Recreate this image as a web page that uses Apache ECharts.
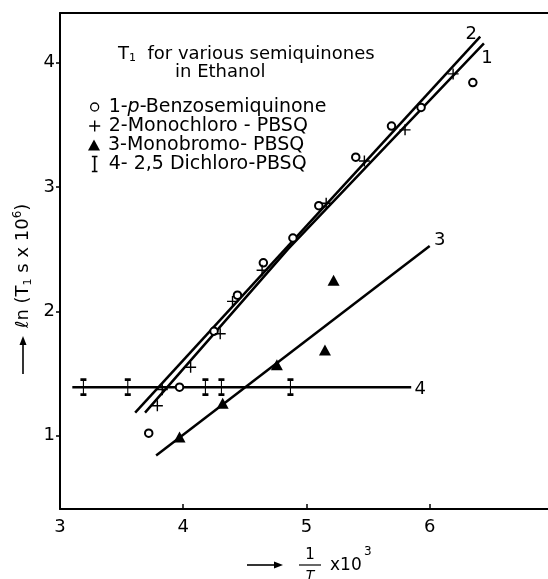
<!DOCTYPE html>
<html><head><meta charset="utf-8">
<script src="https://cdn.jsdelivr.net/npm/echarts@6/dist/echarts.min.js"></script>
<style>html,body{margin:0;padding:0;background:#fff}#c{width:548px;height:579px}</style>
</head><body><div id="c"></div>
<script>
const FONT = 'DejaVu Sans';

// tick labels
const xTicks = [3, 4, 5, 6];
const yTicks = [1, 2, 3, 4];

// series names
const seriesNames = ['1-p-Benzosemiquinone', '2-Monochloro - PBSQ', '3-Monobromo- PBSQ', '4- 2,5 Dichloro-PBSQ'];

// 1: p-Benzosemiquinone (open circles)
const benzoX = [3.72, 3.97, 4.25, 4.44, 4.65, 4.89, 5.10, 5.40, 5.69, 5.93, 6.35];
const benzoY = [1.02, 1.39, 1.84, 2.13, 2.39, 2.59, 2.85, 3.24, 3.49, 3.64, 3.84];
// 2: Monochloro-PBSQ (plus)
const chloroX = [3.79, 3.83, 4.06, 4.30, 4.40, 4.64, 5.16, 5.47, 5.80, 6.19];
const chloroY = [1.24, 1.37, 1.55, 1.82, 2.08, 2.33, 2.87, 3.21, 3.46, 3.91];
// 3: Monobromo-PBSQ (filled triangles)
const bromoX = [3.97, 4.32, 4.76, 5.15, 5.22];
const bromoY = [0.99, 1.26, 1.57, 1.69, 2.25];
// 4: 2,5 Dichloro-PBSQ (I bars)
const dichloroX = [3.19, 3.55, 4.18, 4.31, 4.87];
const dichloroY = [1.39, 1.39, 1.39, 1.39, 1.39];

// hand-drawn fit lines
const fit1X = [3.69, 4.85, 6.44];
const fit1Y = [1.185, 2.50, 4.155];
const fit2X = [3.61, 6.41];
const fit2Y = [1.185, 4.21];
const fit3X = [3.78, 6.00];
const fit3Y = [0.84, 2.525];
const fit4X = [3.10, 5.85];
const fit4Y = [1.39, 1.39];
const fitLabels = ['1', '2', '3', '4'];

const zip = (xs, ys) => xs.map((x, i) => [x, ys[i]]);
const fits = [zip(fit1X, fit1Y), zip(fit2X, fit2Y), zip(fit3X, fit3Y), zip(fit4X, fit4Y)];
const fitLabelOffsets = [[3, 15], [-9, -2], [10, -6], [9, 2]];

const black = '#000';
const txt = { color: black, fontFamily: FONT };

const chart = echarts.init(document.getElementById('c'), null, { renderer: 'canvas' });

const plusPath = 'path://M0,5L10,5M5,0L5,10';
const iPath = 'path://M0,0L6,0M3,0L3,16M0,16L6,16';

const legendRows = [107, 126, 145, 164];
const legendDefs = [
  { icon: 'circle', w: 8, h: 8, style: { color: '#fff', borderColor: black, borderWidth: 1.3, opacity: 1 }, fmt: '1-{i|p}-Benzosemiquinone' },
  { icon: plusPath, w: 11, h: 11, style: { color: 'transparent', borderColor: black, borderWidth: 1.4, opacity: 1 }, fmt: '2-Monochloro - PBSQ' },
  { icon: 'triangle', w: 12, h: 11, style: { color: black, borderWidth: 0, opacity: 1 }, fmt: '3-Monobromo- PBSQ' },
  { icon: iPath, w: 6, h: 15, style: { color: 'transparent', borderColor: black, borderWidth: 1.7, opacity: 1 }, fmt: '4- 2,5 Dichloro-PBSQ' }
];
const legends = legendDefs.map((d, i) => ({
  data: [seriesNames[i]],
  left: 94 - d.w / 2,
  top: legendRows[i] - 10,
  padding: 0,
  icon: d.icon,
  itemWidth: d.w,
  itemHeight: d.h,
  itemStyle: d.style,
  selectedMode: false,
  formatter: () => d.fmt,
  textStyle: {
    ...txt, fontSize: 19, lineHeight: 20,
    padding: [0, 0, 0, 108 - (94 + d.w / 2 + 5)],
    rich: { i: { ...txt, fontSize: 19, fontStyle: 'italic', lineHeight: 20 } }
  }
}));

chart.setOption({
  animation: false,
  backgroundColor: '#fff',
  grid: { left: 60, top: 13, right: 0, bottom: 70, containLabel: false },
  title: [
    {
      text: 'T{s|1}  for various semiquinones', left: 118, top: 44, padding: 0,
      textStyle: { ...txt, fontSize: 18, fontWeight: 'normal', lineHeight: 20,
        rich: { s: { ...txt, fontSize: 11, verticalAlign: 'bottom', lineHeight: 20 } } }
    },
    {
      text: 'in Ethanol', left: 175, top: 62, padding: 0,
      textStyle: { ...txt, fontSize: 18, fontWeight: 'normal', lineHeight: 20 }
    }
  ],
  legend: legends,
  xAxis: [
    {
      type: 'value', min: 3, max: 6.96, position: 'bottom',
      axisLine: { show: true, onZero: false, lineStyle: { color: black, width: 2 } },
      axisTick: { show: true, inside: true, length: 5, customValues: xTicks, lineStyle: { color: black, width: 1.5 } },
      axisLabel: { customValues: xTicks, margin: 9, fontSize: 18, ...txt },
      splitLine: { show: false }
    },
    {
      type: 'value', min: 3, max: 6.96, position: 'top',
      axisLine: { show: true, onZero: false, lineStyle: { color: black, width: 2 } },
      axisTick: { show: false }, axisLabel: { show: false }, splitLine: { show: false }
    }
  ],
  yAxis: {
    type: 'value', min: 0.41, max: 4.40,
    axisLine: { show: true, onZero: false, lineStyle: { color: black, width: 2 } },
    axisTick: { show: true, inside: false, length: 4, customValues: yTicks, lineStyle: { color: black, width: 1.5 } },
    axisLabel: { customValues: yTicks, margin: 5, fontSize: 18, ...txt },
    splitLine: { show: false }
  },
  series: [
    ...fits.map((f, i) => ({
      type: 'line', name: 'fit ' + fitLabels[i], data: f, symbol: 'none', silent: true,
      lineStyle: { color: black, width: 2.5, opacity: 1 }, z: 1
    })),
    {
      type: 'scatter', name: 'fit labels', silent: true, symbolSize: 1,
      itemStyle: { color: 'transparent', opacity: 1 },
      data: fits.map((f, i) => ({
        value: f[f.length - 1],
        label: { show: true, position: 'inside', offset: fitLabelOffsets[i], formatter: fitLabels[i], fontSize: 18, color: black, fontFamily: FONT, textBorderWidth: 0 }
      })),
      z: 3
    },
    {
      type: 'scatter', name: seriesNames[0], data: zip(benzoX, benzoY),
      symbol: 'emptyCircle', symbolSize: 7.5,
      itemStyle: { color: black, borderColor: black, borderWidth: 1.3, opacity: 1 }, z: 4
    },
    {
      type: 'scatter', name: seriesNames[1], data: zip(chloroX, chloroY),
      symbol: plusPath, symbolSize: 11,
      itemStyle: { color: 'transparent', borderColor: black, borderWidth: 1.4, opacity: 1 }, z: 4
    },
    {
      type: 'scatter', name: seriesNames[2], data: zip(bromoX, bromoY),
      symbol: 'triangle', symbolSize: [12, 11],
      itemStyle: { color: black, opacity: 1 }, z: 4
    },
    {
      type: 'scatter', name: seriesNames[3], data: zip(dichloroX, dichloroY),
      symbol: iPath, symbolSize: [6, 15],
      itemStyle: { color: 'transparent', borderColor: black, borderWidth: 1.7, opacity: 1 }, z: 4
    }
  ],
  graphic: [
    {
      type: 'group', x: 23, y: 374, rotation: Math.PI / 2, silent: true,
      children: [
        { type: 'line', shape: { x1: 0, y1: 0, x2: 31, y2: 0 }, style: { stroke: black, lineWidth: 1.6 } },
        { type: 'polygon', shape: { points: [[38, 0], [29, -3.5], [29, 3.5]] }, style: { fill: black } },
        {
          type: 'text', x: 46, y: 0,
          style: {
            text: 'ℓn (T{s|1} s x 10{p|6})', fill: black, fontFamily: FONT, fontSize: 18,
            verticalAlign: 'middle', align: 'left', lineHeight: 22,
            rich: {
              s: { fill: black, fontFamily: FONT, fontSize: 11, verticalAlign: 'bottom', lineHeight: 22 },
              p: { fill: black, fontFamily: FONT, fontSize: 12, verticalAlign: 'top', lineHeight: 22 }
            }
          }
        }
      ]
    },
    { type: 'line', silent: true, shape: { x1: 247, y1: 565, x2: 276, y2: 565 }, style: { stroke: black, lineWidth: 1.6 } },
    { type: 'polygon', silent: true, shape: { points: [[283, 565], [274, 561.5], [274, 568.5]] }, style: { fill: black } },
    { type: 'text', silent: true, x: 310, y: 555, style: { text: '1', fill: black, fontFamily: FONT, fontSize: 15, align: 'center', verticalAlign: 'middle' } },
    { type: 'line', silent: true, shape: { x1: 299, y1: 565, x2: 321, y2: 565 }, style: { stroke: black, lineWidth: 1.2 } },
    { type: 'text', silent: true, x: 310, y: 576, style: { text: 'T', fill: black, fontFamily: FONT, fontSize: 14, fontStyle: 'italic', align: 'center', verticalAlign: 'middle' } },
    { type: 'text', silent: true, x: 330, y: 566, style: { text: 'x10', fill: black, fontFamily: FONT, fontSize: 17, align: 'left', verticalAlign: 'middle' } },
    { type: 'text', silent: true, x: 364, y: 552, style: { text: '3', fill: black, fontFamily: FONT, fontSize: 12, align: 'left', verticalAlign: 'middle' } }
  ]
});
</script>
</body></html>
